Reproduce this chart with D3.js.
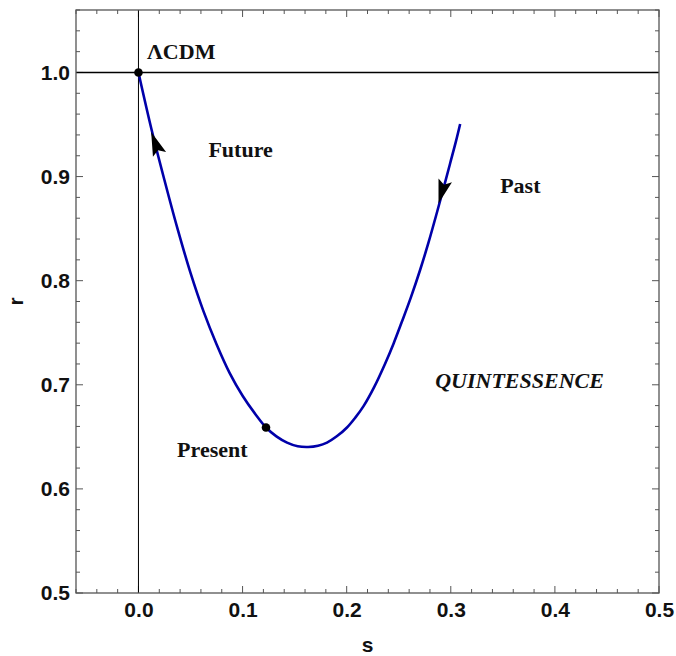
<!DOCTYPE html>
<html>
<head>
<meta charset="utf-8">
<script src="https://cdn.jsdelivr.net/npm/d3@7"></script>
<style>
  body { margin: 0; background: #fff; }
  svg { display: block; }
</style>
</head>
<body>
<div id="chart"></div>
<script>
// Trajectory in the s-r plane (lightly smoothed by eye)
const sVals = [0.000, 0.0125, 0.025, 0.0375, 0.050, 0.0625, 0.075, 0.0875, 0.100, 0.1125, 0.1225,
               0.1325, 0.1427, 0.153, 0.163, 0.1725, 0.1811, 0.1905, 0.2003, 0.2083, 0.2162, 0.2265,
               0.237, 0.245, 0.253, 0.2615, 0.2706, 0.2787, 0.2867, 0.2935, 0.2994, 0.305, 0.309];
const rVals = [1.000, 0.9455, 0.8965, 0.850, 0.8075, 0.7705, 0.739, 0.7115, 0.6895, 0.6715, 0.659,
               0.6505, 0.6445, 0.641, 0.6403, 0.6415, 0.6445, 0.6505, 0.659, 0.6685, 0.6795, 0.698,
               0.7205, 0.7395, 0.7605, 0.7835, 0.8105, 0.837, 0.8655, 0.8905, 0.9128, 0.934, 0.9505];

// Marked points
const dotS = [0.0, 0.1225];
const dotR = [1.0, 0.659];

// Direction arrows: tip and the middle of the arrow's back
const arrowTipS = [0.0122, 0.2882];
const arrowTipR = [0.9429, 0.8742];
const arrowBackS = [0.0204, 0.2946];
const arrowBackR = [0.9208, 0.8961];

// Text annotations
const noteText = ["\u039BCDM", "Future", "Past", "Present", "QUINTESSENCE"];
const noteS = [0.0083, 0.0672, 0.3474, 0.0371, 0.2850];
const noteR = [1.0128, 0.9189, 0.8838, 0.6307, 0.6970];
const noteItalic = [false, false, false, false, true];

const xTicks = [0.0, 0.1, 0.2, 0.3, 0.4, 0.5];
const yTicks = [0.5, 0.6, 0.7, 0.8, 0.9, 1.0];

const width = 676, height = 656;
const margin = {top: 10, right: 17, bottom: 63, left: 76};

const svg = d3.select("#chart").append("svg")
    .attr("width", width)
    .attr("height", height);

const x = d3.scaleLinear().domain([-0.06, 0.5]).range([margin.left, width - margin.right]);
const y = d3.scaleLinear().domain([0.5, 1.06]).range([height - margin.bottom, margin.top]);

// Minor ticks every 0.02
const xMinor = d3.range(-0.06, 0.5001, 0.02).map(v => +v.toFixed(2));
const yMinor = d3.range(0.5, 1.0601, 0.02).map(v => +v.toFixed(2));

const frameColor = "#555";
const tickFont = "'Liberation Sans', Arial, sans-serif";

function isMajor(v) { return Math.abs(v * 10 - Math.round(v * 10)) < 1e-6; }

// Inside ticks on all four sides
const gTicks = svg.append("g");
xMinor.forEach(v => {
    const len = isMajor(v) ? 7 : 4;
    gTicks.append("line").attr("x1", x(v)).attr("x2", x(v))
        .attr("y1", y(0.5)).attr("y2", y(0.5) - len)
        .attr("stroke", frameColor).attr("stroke-width", 1);
    gTicks.append("line").attr("x1", x(v)).attr("x2", x(v))
        .attr("y1", y(1.06)).attr("y2", y(1.06) + len)
        .attr("stroke", frameColor).attr("stroke-width", 1);
});
yMinor.forEach(v => {
    const len = isMajor(v) ? 7 : 4;
    gTicks.append("line").attr("y1", y(v)).attr("y2", y(v))
        .attr("x1", x(-0.06)).attr("x2", x(-0.06) + len)
        .attr("stroke", frameColor).attr("stroke-width", 1);
    gTicks.append("line").attr("y1", y(v)).attr("y2", y(v))
        .attr("x1", x(0.5)).attr("x2", x(0.5) - len)
        .attr("stroke", frameColor).attr("stroke-width", 1);
});

// Tick labels through d3 axes (lines hidden)
const xAxis = svg.append("g")
    .attr("transform", `translate(0,${y(0.5)})`)
    .call(d3.axisBottom(x).tickValues(xTicks).tickSize(0).tickPadding(9).tickFormat(d3.format(".1f")));
xAxis.select(".domain").remove();
xAxis.selectAll("text")
    .attr("font-family", tickFont).attr("font-weight", "bold")
    .attr("font-size", 21).attr("fill", "#111");

const yAxis = svg.append("g")
    .attr("transform", `translate(${x(-0.06)},0)`)
    .call(d3.axisLeft(y).tickValues(yTicks).tickSize(0).tickPadding(6).tickFormat(d3.format(".1f")));
yAxis.select(".domain").remove();
yAxis.selectAll("text")
    .attr("font-family", tickFont).attr("font-weight", "bold")
    .attr("font-size", 21).attr("fill", "#111");

// Reference lines r = 1 and s = 0
svg.append("line")
    .attr("x1", x(-0.06)).attr("x2", x(0.5))
    .attr("y1", y(1.0)).attr("y2", y(1.0))
    .attr("stroke", "#000").attr("stroke-width", 1.6);
svg.append("line")
    .attr("x1", x(0)).attr("x2", x(0))
    .attr("y1", y(0.5)).attr("y2", y(1.06))
    .attr("stroke", "#000").attr("stroke-width", 1);

// Frame
svg.append("rect")
    .attr("x", x(-0.06)).attr("y", y(1.06))
    .attr("width", x(0.5) - x(-0.06)).attr("height", y(0.5) - y(1.06))
    .attr("fill", "none").attr("stroke", frameColor).attr("stroke-width", 1.3);

// Curve
const pts = sVals.map((s, i) => [s, rVals[i]]);
const line = d3.line()
    .x(d => x(d[0]))
    .y(d => y(d[1]))
    .curve(d3.curveCatmullRom.alpha(0.5));
svg.append("path")
    .datum(pts)
    .attr("d", line)
    .attr("fill", "none")
    .attr("stroke", "#0000aa")
    .attr("stroke-width", 2.6);

// Arrowheads (notched, Mathematica style)
arrowTipS.forEach((s, i) => {
    const tx = x(s), ty = y(arrowTipR[i]);
    const bx = x(arrowBackS[i]), by = y(arrowBackR[i]);
    const ang = Math.atan2(ty - by, tx - bx) * 180 / Math.PI;
    svg.append("path")
        .attr("d", "M0,0 L-24,-7 L-19.5,0 L-24,7 Z")
        .attr("transform", `translate(${tx},${ty}) rotate(${ang})`)
        .attr("fill", "#000");
});

// Points
svg.selectAll("circle.pt")
    .data(dotS)
    .enter().append("circle")
    .attr("class", "pt")
    .attr("cx", d => x(d))
    .attr("cy", (d, i) => y(dotR[i]))
    .attr("r", 4.3)
    .attr("fill", "#000");

// Annotations
svg.selectAll("text.note")
    .data(noteText)
    .enter().append("text")
    .attr("class", "note")
    .attr("x", (d, i) => x(noteS[i]))
    .attr("y", (d, i) => y(noteR[i]))
    .attr("font-family", "'Liberation Serif', 'Times New Roman', serif")
    .attr("font-weight", "bold")
    .attr("font-style", (d, i) => noteItalic[i] ? "italic" : "normal")
    .attr("font-size", 22)
    .attr("fill", "#111")
    .text(d => d);

// Axis titles
svg.append("text")
    .attr("x", (x(-0.06) + x(0.5)) / 2)
    .attr("y", 652)
    .attr("text-anchor", "middle")
    .attr("font-family", tickFont).attr("font-weight", "bold")
    .attr("font-size", 21).attr("fill", "#111")
    .text("s");
svg.append("text")
    .attr("transform", `translate(23,${(y(0.5) + y(1.06)) / 2}) rotate(-90)`)
    .attr("text-anchor", "middle")
    .attr("font-family", tickFont).attr("font-weight", "bold")
    .attr("font-size", 21).attr("fill", "#111")
    .text("r");
</script>
</body>
</html>
